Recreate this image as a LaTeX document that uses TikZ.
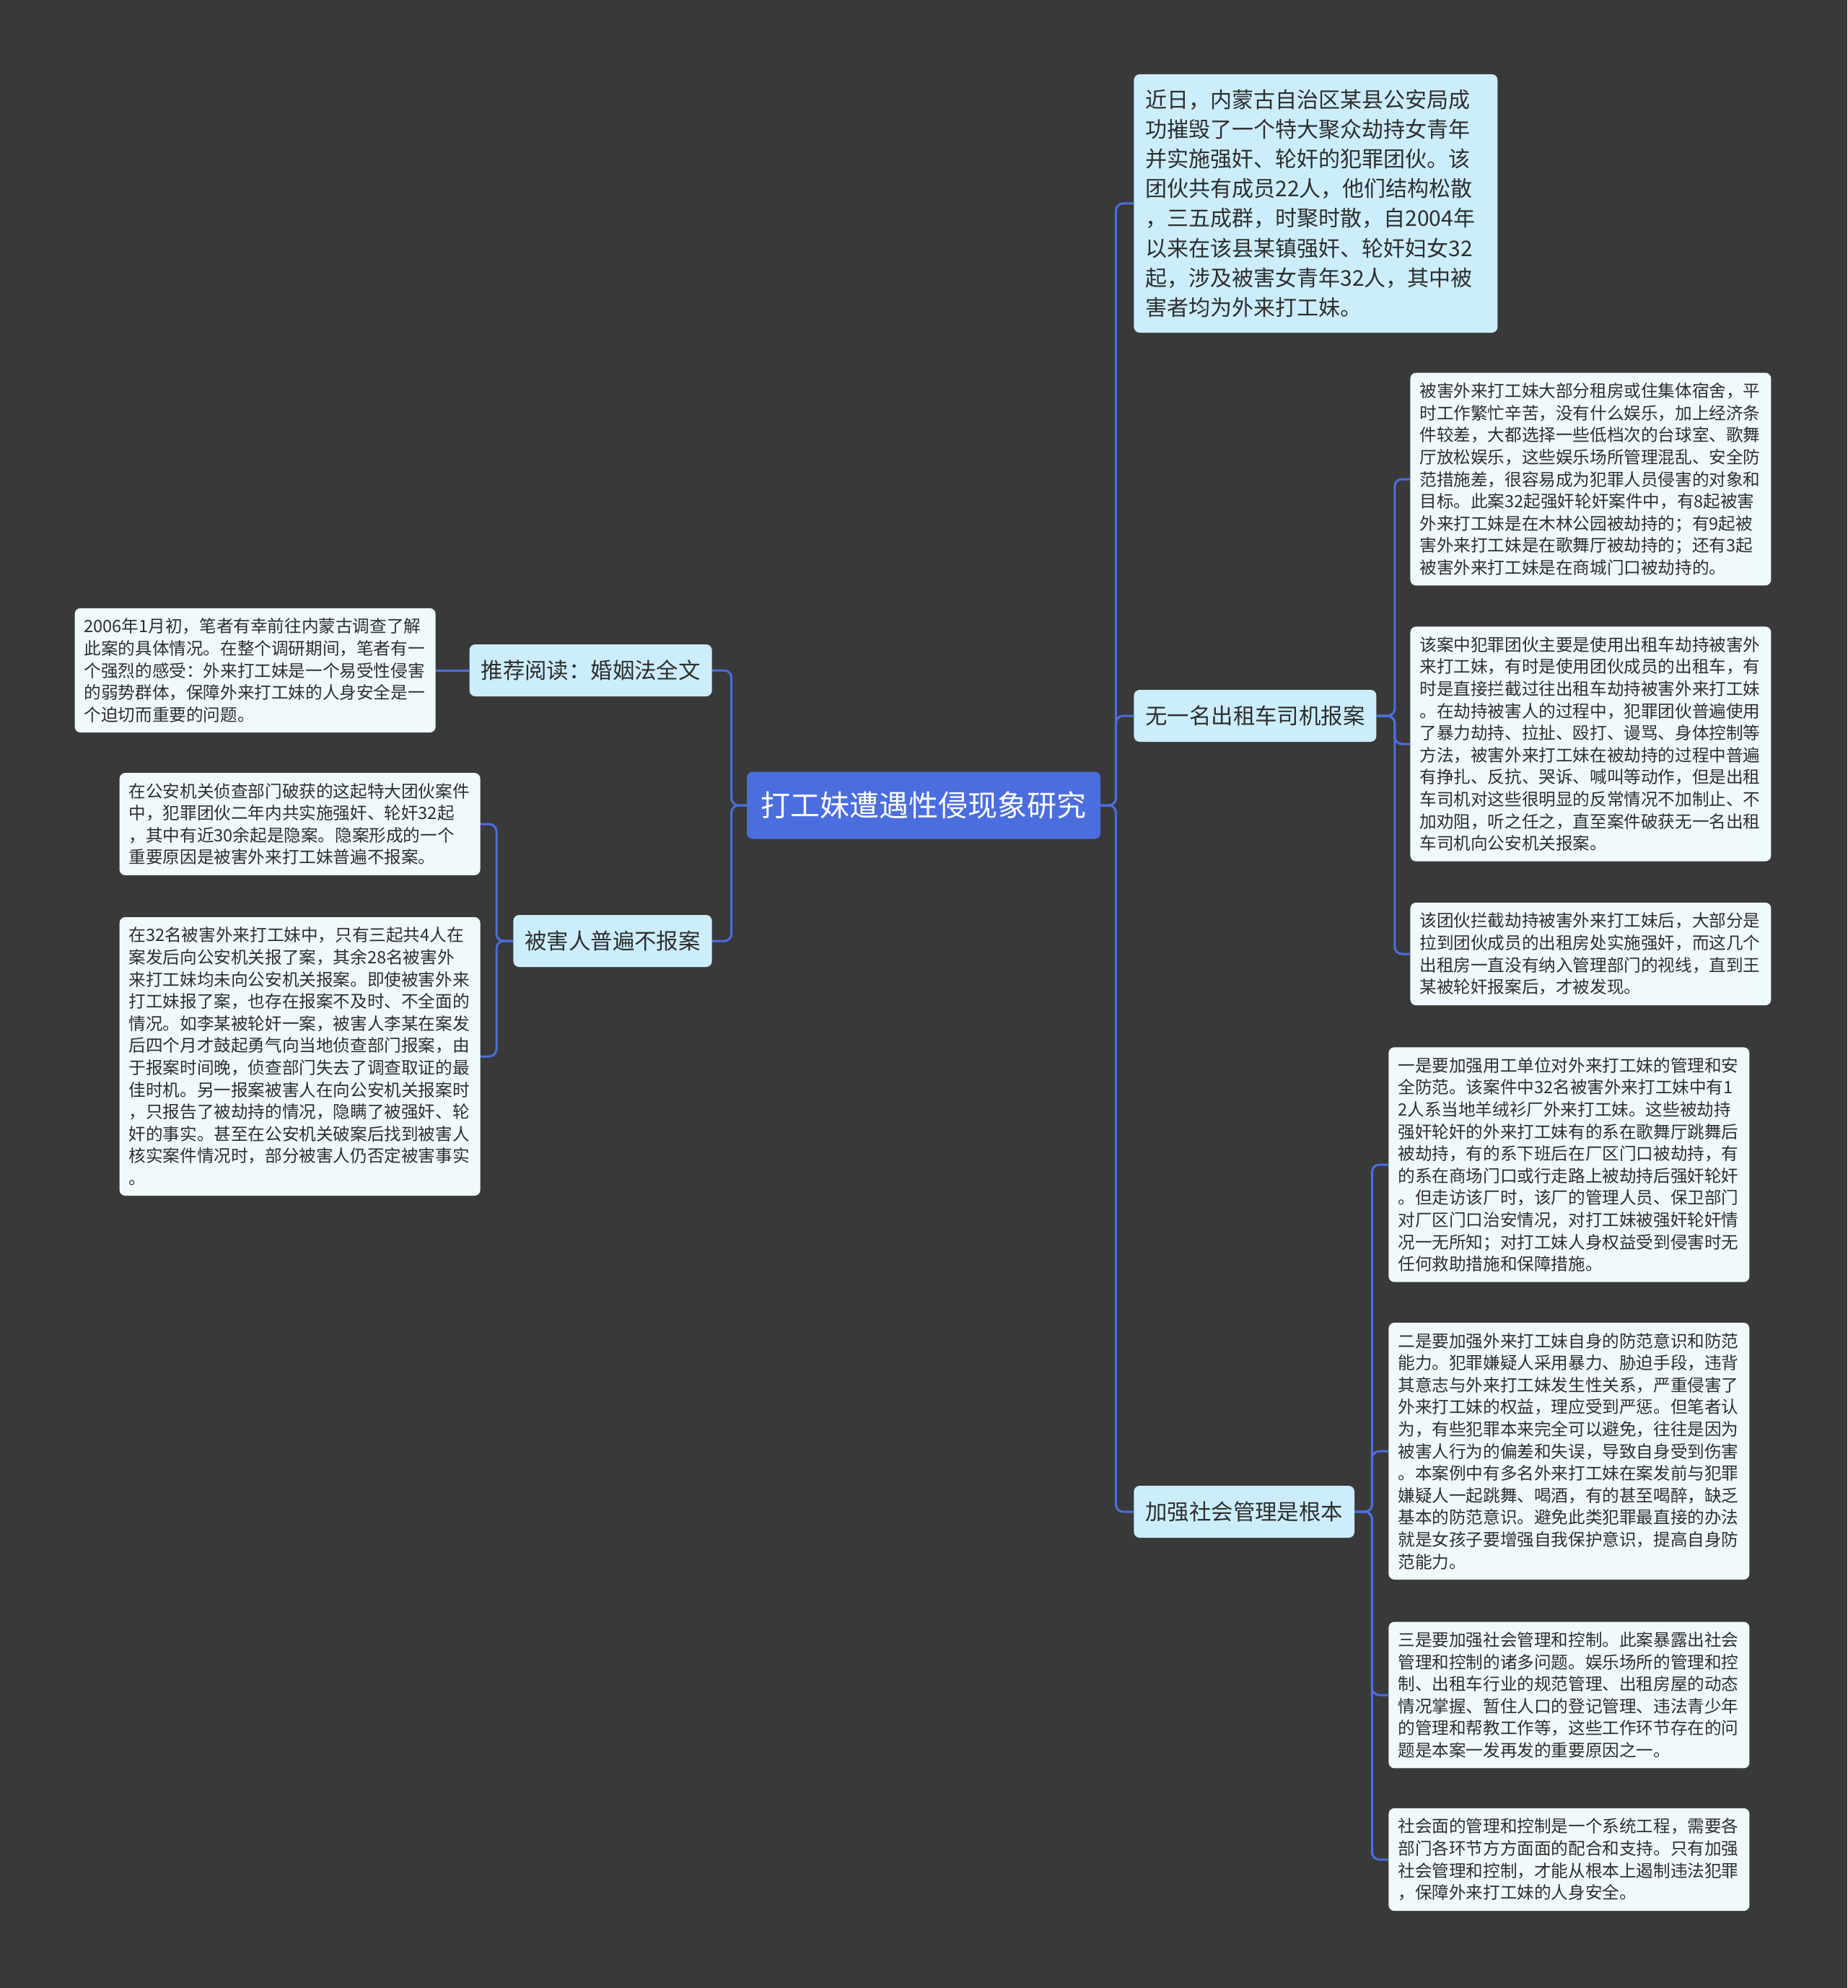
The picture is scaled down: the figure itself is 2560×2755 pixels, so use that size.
\documentclass[tikz,border=0pt]{standalone}
\usepackage{fontspec}
\setmainfont{Noto Sans CJK SC}
\usetikzlibrary{positioning}
\definecolor{mmbg}{HTML}{393939}
\definecolor{mmblue}{HTML}{4B6EDF}
\definecolor{mmtopic}{HTML}{CCEEFC}
\definecolor{mmleaf}{HTML}{F0FAFD}
\definecolor{mmtext}{HTML}{2E2E2E}
\tikzset{
  rootbox/.style={fill=mmblue, text=white, rounded corners=4pt,
    minimum width=245pt, minimum height=46.5pt, inner sep=0pt,
    font=\fontsize{20.5pt}{24pt}\selectfont},
  topicbox/.style={fill=mmtopic, text=mmtext, rounded corners=4pt,
    minimum height=36pt, inner xsep=8pt, inner ysep=0pt,
    font=\fontsize{15.2pt}{18pt}\selectfont},
  % large note next to the centre
  notebox/.style={fill=mmtopic, text=mmtext, rounded corners=4pt,
    text width=236pt, align=left, inner xsep=8pt, inner ysep=10.5pt,
    font=\fontsize{15pt}{20.6pt}\selectfont},
  leafbox/.style={fill=mmleaf, text=mmtext, rounded corners=4pt,
    text width=237pt, align=left, inner xsep=6.5pt, inner ysep=7pt,
    font=\fontsize{11.8pt}{15.3pt}\selectfont},
  link/.style={draw=mmblue, line width=1.5pt, rounded corners=5pt},
}

\begin{document}
\begin{tikzpicture}[x=0.5pt, y=-0.5pt]
  % ---------------- canvas
  \fill[mmbg] (0,0) rectangle (2560,2755);
  \useasboundingbox (0,0) rectangle (2560,2755);
  % ---------------- centre and main topics
  \node[rootbox] (root) at (1280,1116) {打工妹遭遇性侵现象研究};
  \node[topicbox, anchor=east] (read) at (987,929) {推荐阅读：婚姻法全文};
  \node[topicbox, anchor=east] (silent) at (987,1304) {被害人普遍不报案};
  \node[topicbox, anchor=west] (taxi) at (1571,992) {无一名出租车司机报案};
  \node[topicbox, anchor=west] (manage) at (1571,2095) {加强社会管理是根本};
  \node[notebox, anchor=west] (news) at (1571,282) {近日，内蒙古自治区某县公安局成\\功摧毁了一个特大聚众劫持女青年\\并实施强奸、轮奸的犯罪团伙。该\\团伙共有成员22人，他们结构松散\\，三五成群，时聚时散，自2004年\\以来在该县某镇强奸、轮奸妇女32\\起，涉及被害女青年32人，其中被\\害者均为外来打工妹。};
  % ---------------- left leaves
  \node[leafbox, anchor=east] (survey) at (604,929) {2006年1月初，笔者有幸前往内蒙古调查了解\\此案的具体情况。在整个调研期间，笔者有一\\个强烈的感受：外来打工妹是一个易受性侵害\\的弱势群体，保障外来打工妹的人身安全是一\\个迫切而重要的问题。};
  \node[leafbox, anchor=east] (hidden) at (666,1142) {在公安机关侦查部门破获的这起特大团伙案件\\中，犯罪团伙二年内共实施强奸、轮奸32起\\，其中有近30余起是隐案。隐案形成的一个\\重要原因是被害外来打工妹普遍不报案。};
  \node[leafbox, anchor=east] (report) at (666,1464) {在32名被害外来打工妹中，只有三起共4人在\\案发后向公安机关报了案，其余28名被害外\\来打工妹均未向公安机关报案。即使被害外来\\打工妹报了案，也存在报案不及时、不全面的\\情况。如李某被轮奸一案，被害人李某在案发\\后四个月才鼓起勇气向当地侦查部门报案，由\\于报案时间晚，侦查部门失去了调查取证的最\\佳时机。另一报案被害人在向公安机关报案时\\，只报告了被劫持的情况，隐瞒了被强奸、轮\\奸的事实。甚至在公安机关破案后找到被害人\\核实案件情况时，部分被害人仍否定被害事实\\。};
  % ---------------- taxi leaves
  \node[leafbox, anchor=west] (venue) at (1954,664) {被害外来打工妹大部分租房或住集体宿舍，平\\时工作繁忙辛苦，没有什么娱乐，加上经济条\\件较差，大都选择一些低档次的台球室、歌舞\\厅放松娱乐，这些娱乐场所管理混乱、安全防\\范措施差，很容易成为犯罪人员侵害的对象和\\目标。此案32起强奸轮奸案件中，有8起被害\\外来打工妹是在木林公园被劫持的；有9起被\\害外来打工妹是在歌舞厅被劫持的；还有3起\\被害外来打工妹是在商城门口被劫持的。};
  \node[leafbox, anchor=west] (driver) at (1954,1031) {该案中犯罪团伙主要是使用出租车劫持被害外\\来打工妹，有时是使用团伙成员的出租车，有\\时是直接拦截过往出租车劫持被害外来打工妹\\。在劫持被害人的过程中，犯罪团伙普遍使用\\了暴力劫持、拉扯、殴打、谩骂、身体控制等\\方法，被害外来打工妹在被劫持的过程中普遍\\有挣扎、反抗、哭诉、喊叫等动作，但是出租\\车司机对这些很明显的反常情况不加制止、不\\加劝阻，听之任之，直至案件破获无一名出租\\车司机向公安机关报案。};
  \node[leafbox, anchor=west] (rental) at (1954,1322) {该团伙拦截劫持被害外来打工妹后，大部分是\\拉到团伙成员的出租房处实施强奸，而这几个\\出租房一直没有纳入管理部门的视线，直到王\\某被轮奸报案后，才被发现。};
  % ---------------- management leaves
  \node[leafbox, anchor=west] (first) at (1924,1614) {一是要加强用工单位对外来打工妹的管理和安\\全防范。该案件中32名被害外来打工妹中有1\\2人系当地羊绒衫厂外来打工妹。这些被劫持\\强奸轮奸的外来打工妹有的系在歌舞厅跳舞后\\被劫持，有的系下班后在厂区门口被劫持，有\\的系在商场门口或行走路上被劫持后强奸轮奸\\。但走访该厂时，该厂的管理人员、保卫部门\\对厂区门口治安情况，对打工妹被强奸轮奸情\\况一无所知；对打工妹人身权益受到侵害时无\\任何救助措施和保障措施。};
  \node[leafbox, anchor=west] (second) at (1924,2011) {二是要加强外来打工妹自身的防范意识和防范\\能力。犯罪嫌疑人采用暴力、胁迫手段，违背\\其意志与外来打工妹发生性关系，严重侵害了\\外来打工妹的权益，理应受到严惩。但笔者认\\为，有些犯罪本来完全可以避免，往往是因为\\被害人行为的偏差和失误，导致自身受到伤害\\。本案例中有多名外来打工妹在案发前与犯罪\\嫌疑人一起跳舞、喝酒，有的甚至喝醉，缺乏\\基本的防范意识。避免此类犯罪最直接的办法\\就是女孩子要增强自我保护意识，提高自身防\\范能力。};
  \node[leafbox, anchor=west] (third) at (1924,2349) {三是要加强社会管理和控制。此案暴露出社会\\管理和控制的诸多问题。娱乐场所的管理和控\\制、出租车行业的规范管理、出租房屋的动态\\情况掌握、暂住人口的登记管理、违法青少年\\的管理和帮教工作等，这些工作环节存在的问\\题是本案一发再发的重要原因之一。};
  \node[leafbox, anchor=west] (system) at (1924,2577) {社会面的管理和控制是一个系统工程，需要各\\部门各环节方方面面的配合和支持。只有加强\\社会管理和控制，才能从根本上遏制违法犯罪\\，保障外来打工妹的人身安全。};
  % ---------------- connectors
  \foreach \n in {news, taxi, manage}
    \draw[link] (root.east) -- ++(21,0) |- (\n.west);
  \foreach \n in {read, silent}
    \draw[link] (root.west) -- ++(-21,0) |- (\n.east);
  \draw[link] (read.west) -- (survey.east);
  \foreach \n in {hidden, report}
    \draw[link] (silent.west) -- ++(-23,0) |- (\n.east);
  \foreach \n in {venue, driver, rental}
    \draw[link] (taxi.east) -- ++(25,0) |- (\n.west);
  \foreach \n in {first, second, third, system}
    \draw[link] (manage.east) -- ++(24,0) |- (\n.west);
\end{tikzpicture}
\end{document}
